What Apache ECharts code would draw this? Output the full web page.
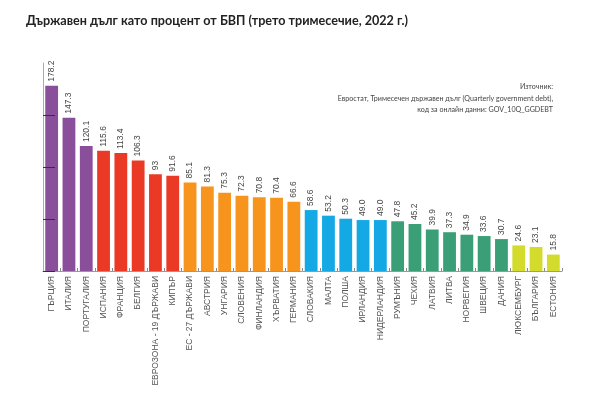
<!DOCTYPE html>
<html>
<head>
<meta charset="utf-8">
<script src="https://cdn.jsdelivr.net/npm/echarts@6/dist/echarts.min.js"></script>
<style>html,body{margin:0;padding:0;background:#fff}#c{width:600px;height:393px}</style>
</head>
<body>
<div id="c"></div>
<script>
var categories = ['ГЪРЦИЯ','ИТАЛИЯ','ПОРТУГАЛИЯ','ИСПАНИЯ','ФРАНЦИЯ','БЕЛГИЯ','ЕВРОЗОНА - 19 ДЪРЖАВИ','КИПЪР','ЕС - 27 ДЪРЖАВИ','АВСТРИЯ','УНГАРИЯ','СЛОВЕНИЯ','ФИНЛАНДИЯ','ХЪРВАТИЯ','ГЕРМАНИЯ','СЛОВАКИЯ','МАЛТА','ПОЛША','ИРЛАНДИЯ','НИДЕРЛАНДИЯ','РУМЪНИЯ','ЧЕХИЯ','ЛАТВИЯ','ЛИТВА','НОРВЕГИЯ','ШВЕЦИЯ','ДАНИЯ','ЛЮКСЕМБУРГ','БЪЛГАРИЯ','ЕСТОНИЯ'];
var values = [178.2,147.3,120.1,115.6,113.4,106.3,93,91.6,85.1,81.3,75.3,72.3,70.8,70.4,66.6,58.6,53.2,50.3,49.0,49.0,47.8,45.2,39.9,37.3,34.9,33.6,30.7,24.6,23.1,15.8];
var valueLabels = ['178.2','147.3','120.1','115.6','113.4','106.3','93','91.6','85.1','81.3','75.3','72.3','70.8','70.4','66.6','58.6','53.2','50.3','49.0','49.0','47.8','45.2','39.9','37.3','34.9','33.6','30.7','24.6','23.1','15.8'];
var groups = [0,0,0,1,1,1,1,1,2,2,2,2,2,2,2,3,3,3,3,3,4,4,4,4,4,4,4,5,5,5];
var groupColors = ['#8a4f9a','#ea3a26','#f7941d','#14a9e4','#3a9f77','#d3dc2c'];
var yMin = 0, yMax = 200;
var yTicks = [0,50,100,150];

var chart = echarts.init(document.getElementById('c'));
chart.setOption({
  animation:false,
  title:{text:'Държавен дълг като процент от БВП (трето тримесечие, 2022 г.)',left:21,top:9,
    textStyle:{fontFamily:'Lato',fontWeight:'bold',fontSize:12.6,color:'#222'}},
  graphic:[{type:'text',x:553,y:81,style:{
    text:'Източник:\nЕвростат, Тримесечен държавен дълг (Quarterly government debt),\nкод за онлайн данни: GOV_10Q_GGDEBT',
    align:'right',textAlign:'right',fontFamily:'Lato',fontSize:7.1,lineHeight:11.5,fill:'#444'}}],
  grid:{left:43,right:38,top:63,bottom:122},
  xAxis:{type:'category',data:categories,
    axisLine:{lineStyle:{color:'#999',width:1}},
    axisTick:{show:true,inside:true,length:3,lineStyle:{color:'#888'}},
    axisLabel:{rotate:90,interval:0,fontFamily:'Liberation Sans',fontSize:8.5,color:'#555',margin:5}},
  yAxis:{type:'value',min:yMin,max:yMax,interval:50,z:5,
    axisLine:{show:true,lineStyle:{color:'#aaa',width:1}},
    axisTick:{show:true,inside:true,length:12,customValues:yTicks,lineStyle:{color:'#3a2a4a',width:1}},
    axisLabel:{show:false},splitLine:{show:false}},
  series:[{type:'bar',barWidth:'74%',
    data:values.map(function(v,i){return {value:v,itemStyle:{color:groupColors[groups[i]]}};}),
    label:{show:true,position:'top',rotate:90,align:'left',verticalAlign:'middle',distance:4,
      fontFamily:'Liberation Sans',fontSize:8.5,color:'#444',
      formatter:function(p){return valueLabels[p.dataIndex];}}}]
});
</script>
</body>
</html>
